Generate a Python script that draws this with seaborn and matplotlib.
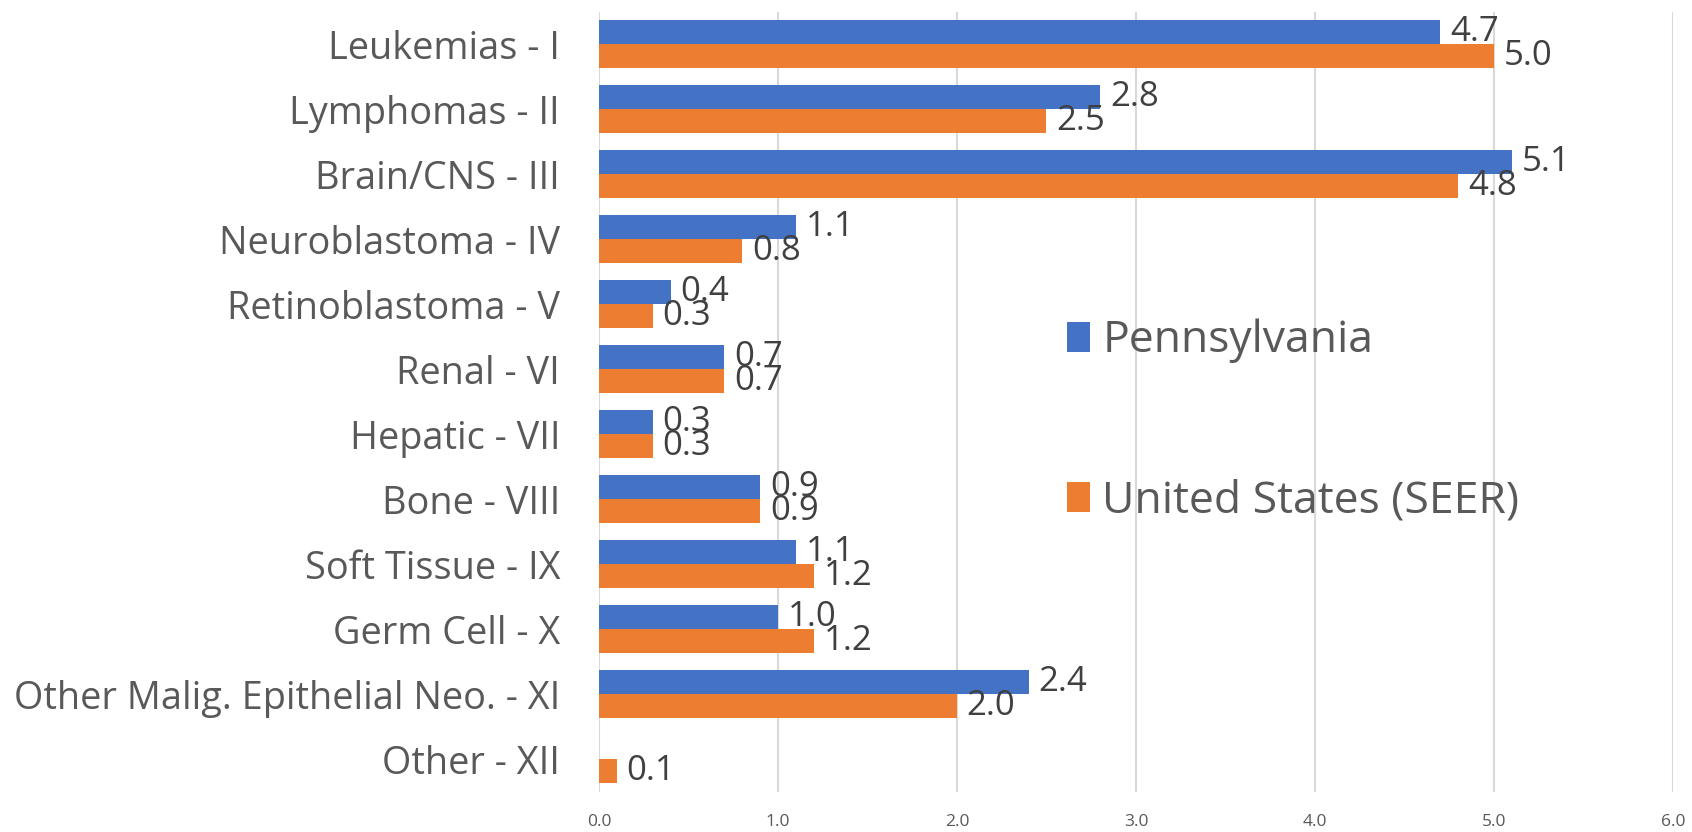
import seaborn as sns
import matplotlib.pyplot as plt
import pandas as pd
import numpy as np

# data
categories = ["Leukemias - I", "Lymphomas - II", "Brain/CNS - III", "Neuroblastoma - IV",
              "Retinoblastoma - V", "Renal - VI", "Hepatic - VII", "Bone - VIII",
              "Soft Tissue - IX", "Germ Cell - X", "Other Malig. Epithelial Neo. - XI",
              "Other - XII"]
pennsylvania = [4.7, 2.8, 5.1, 1.1, 0.4, 0.7, 0.3, 0.9, 1.1, 1.0, 2.4, np.nan]
united_states = [5.0, 2.5, 4.8, 0.8, 0.3, 0.7, 0.3, 0.9, 1.2, 1.2, 2.0, 0.1]
series_names = ["Pennsylvania", "United States (SEER)"]
colors = ["#4472C4", "#ED7D31"]
x_ticks = [0, 1, 2, 3, 4, 5, 6]

df = pd.DataFrame({"category": categories * 2,
                   "value": pennsylvania + united_states,
                   "series": [series_names[0]] * len(categories) + [series_names[1]] * len(categories)})

sns.set_style("white")
plt.rcParams['font.family'] = ['Open Sans', 'DejaVu Sans']

fig = plt.figure(figsize=(16.92, 8.32), dpi=100)
ax = fig.add_axes([0.354, 1 - 791.5 / 832, 1074 / 1692, 780 / 832])

sns.barplot(data=df, y="category", x="value", hue="series", palette=colors,
            orient="h", width=0.74, order=categories, hue_order=series_names,
            saturation=1, errorbar=None, linewidth=0, ax=ax, zorder=3)

for cont in ax.containers:
    ax.bar_label(cont, fmt="%.1f", padding=7, fontsize=25, color="#404040")

ax.set_xlim(0, 6)
ax.set_xticks(x_ticks)
ax.set_xticklabels([f"{t:.1f}" for t in x_ticks], fontsize=12.5, color="#595959")
ax.set_ylim(len(categories) - 0.5, -0.5)
ax.tick_params(axis="y", length=0, pad=28, labelsize=27.3, labelcolor="#595959")
ax.tick_params(axis="x", length=0, pad=16)
ax.set_xlabel("")
ax.set_ylabel("")
ax.grid(axis="x", color="#D9D9D9", linewidth=1.5, zorder=0)
ax.set_axisbelow(True)
for s in ax.spines.values():
    s.set_visible(False)

handles, labels = ax.get_legend_handles_labels()
ax.legend(handles, labels, loc="center left", bbox_to_anchor=(0.6176, 0.494),
          bbox_transform=fig.transFigure, frameon=False, borderpad=0,
          fontsize=32, labelcolor="#595959", handlelength=0.52, handleheight=0.66,
          handletextpad=0.27, labelspacing=2.6)

fig.savefig("out.png", dpi=100)
